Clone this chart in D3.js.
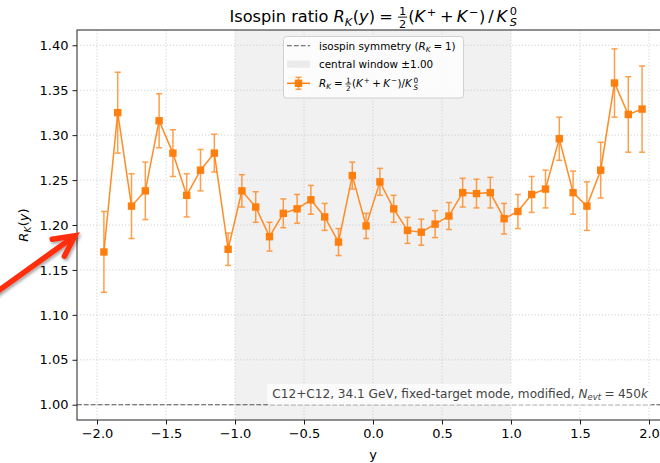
<!DOCTYPE html>
<html>
<head>
<meta charset="utf-8">
<script src="https://cdn.jsdelivr.net/npm/d3@7"></script>
<style>
  body { margin: 0; background: #fff; }
  text { font-family: 'DejaVu Sans', sans-serif; white-space: pre; }
</style>
</head>
<body>
<svg id="chart" width="660" height="463"></svg>
<script>
// rapidity bin centres and measured ratio
const yBins = [-1.95,-1.85,-1.75,-1.65,-1.55,-1.45,-1.35,-1.25,-1.15,-1.05,
               -0.95,-0.85,-0.75,-0.65,-0.55,-0.45,-0.35,-0.25,-0.15,-0.05,
                0.05, 0.15, 0.25, 0.35, 0.45, 0.55, 0.65, 0.75, 0.85, 0.95,
                1.05, 1.15, 1.25, 1.35, 1.45, 1.55, 1.65, 1.75, 1.85, 1.95]
const rk = [1.170,1.325,1.221,1.238,1.316,1.280,1.233,1.261,1.280,1.173,
            1.238,1.220,1.187,1.213,1.218,1.228,1.209,1.181,1.255,1.199,
            1.248,1.218,1.194,1.192,1.201,1.210,1.236,1.235,1.236,1.207,
            1.215,1.234,1.240,1.296,1.236,1.221,1.261,1.358,1.323,1.329]
const rkErr = [0.045,0.045,0.036,0.032,0.030,0.026,0.024,0.023,0.021,0.018,
               0.018,0.017,0.016,0.016,0.016,0.016,0.015,0.015,0.015,0.014,
               0.015,0.015,0.0145,0.0145,0.015,0.015,0.016,0.016,0.017,0.017,
               0.019,0.020,0.021,0.024,0.024,0.027,0.031,0.038,0.042,0.048]
const xTicks = [-2.0,-1.5,-1.0,-0.5,0.0,0.5,1.0,1.5,2.0]
const yTicks = [1.00,1.05,1.10,1.15,1.20,1.25,1.30,1.35,1.40]
const centralWindow = [-1.0, 1.0]
const symmetryLevel = 1.0
// call-out arrow, in data coordinates
const arrowTail = [-2.75, 1.123]
const arrowTip = [-2.16, 1.188]

const orange = '#ff7f0e'
const svg = d3.select('#chart')

const x = d3.scaleLinear().domain([-2.145, 2.145]).range([77, 669])
const y = d3.scaleLinear().domain([0.983, 1.417]).range([420, 30])

// small mathtext-like renderer: pieces placed one after the other
function mathText(parent, parts, fs) {
  const g = parent.append('g')
  let cx = 0
  const put = (txt, px, py, size, italic) => {
    const t = g.append('text').attr('x', px).attr('y', py)
      .style('font-size', size + 'px')
      .style('font-style', italic ? 'italic' : 'normal')
      .text(txt)
    return t.node().getComputedTextLength()
  }
  parts.forEach(([k, a, b]) => {
    if (k === 'r') cx += put(a, cx, 0, fs, false)
    else if (k === 'i') cx += put(a, cx, 0, fs, true)
    else if (k === 'sub') cx += put(a, cx, fs * 0.22, fs * 0.7, true) + fs * 0.03
    else if (k === 'sup') { cx += fs * 0.1; cx += put(a, cx, -fs * 0.4, fs * 0.7, false) + fs * 0.03 }
    else if (k === 'supsub') {
      // superscript and subscript stacked in one text element
      const s = fs * 0.7
      cx += fs * 0.1
      const t = g.append('text').attr('x', cx).attr('y', 0).style('font-size', s + 'px')
      t.append('tspan').attr('dy', -fs * 0.42).attr('dx', fs * 0.05).text(a)
      const w1 = t.node().getComputedTextLength()
      t.append('tspan').attr('dx', -w1).attr('dy', fs * 0.66).style('font-style', 'italic').text(b)
      cx += w1 + fs * 0.03
    }
    else if (k === 'frac') {
      const s = fs * 0.7
      const tmp = g.append('text').style('font-size', s + 'px').text(a)
      const wn = tmp.node().getComputedTextLength(); tmp.remove()
      const tmp2 = g.append('text').style('font-size', s + 'px').text(b)
      const wd = tmp2.node().getComputedTextLength(); tmp2.remove()
      const w = Math.max(wn, wd) + fs * 0.12
      cx += fs * 0.06
      put(a, cx + (w - wn) / 2, -fs * 0.42, s, false)
      put(b, cx + (w - wd) / 2, fs * 0.36, s, false)
      g.append('line').attr('x1', cx).attr('x2', cx + w)
        .attr('y1', -fs * 0.3).attr('y2', -fs * 0.3)
        .attr('stroke', 'currentColor').attr('stroke-width', Math.max(0.7, fs * 0.055))
      cx += w + fs * 0.06
    }
    else if (k === 'sp') cx += fs * a
  })
  return { g, width: cx }
}

// central window shading
svg.append('rect')
  .attr('x', x(centralWindow[0])).attr('width', x(centralWindow[1]) - x(centralWindow[0]))
  .attr('y', y.range()[1]).attr('height', y.range()[0] - y.range()[1])
  .attr('fill', '#f1f1f1')

// grid
const grid = svg.append('g').attr('stroke', '#c8c8c8').attr('stroke-width', 0.8).attr('stroke-dasharray', '1.2,2')
grid.selectAll('.gx').data(xTicks).enter().append('line')
  .attr('x1', d => x(d)).attr('x2', d => x(d)).attr('y1', 30).attr('y2', 420)
grid.selectAll('.gy').data(yTicks).enter().append('line')
  .attr('x1', 77).attr('x2', 669).attr('y1', d => y(d)).attr('y2', d => y(d))

// isospin symmetry line
svg.append('line')
  .attr('x1', 77).attr('x2', 669).attr('y1', y(symmetryLevel)).attr('y2', y(symmetryLevel))
  .attr('stroke', '#555').attr('stroke-width', 1.1).attr('stroke-dasharray', '4.8,2.1')

// error bars
const eb = svg.append('g').attr('stroke', orange).attr('stroke-width', 1.5).attr('opacity', 0.75)
yBins.forEach((b, i) => {
  const px = x(b)
  eb.append('line').attr('x1', px).attr('x2', px).attr('y1', y(rk[i] - rkErr[i])).attr('y2', y(rk[i] + rkErr[i]))
  ;[rk[i] - rkErr[i], rk[i] + rkErr[i]].forEach(v => {
    eb.append('line').attr('x1', px - 3).attr('x2', px + 3).attr('y1', y(v)).attr('y2', y(v))
  })
})

// connecting line
svg.append('path')
  .datum(yBins.map((b, i) => [b, rk[i]]))
  .attr('d', d3.line().x(d => x(d[0])).y(d => y(d[1])))
  .attr('fill', 'none').attr('stroke', orange).attr('stroke-width', 1.5).attr('opacity', 0.9)

// markers
svg.selectAll('.mk').data(yBins).enter().append('rect')
  .attr('x', d => x(d) - 3.7).attr('y', (d, i) => y(rk[i]) - 3.7)
  .attr('width', 7.4).attr('height', 7.4)
  .attr('fill', orange)

// axes
const xAxis = svg.append('g').attr('transform', 'translate(0,420)')
  .call(d3.axisBottom(x).tickValues(xTicks).tickFormat(d3.format('.1f')).tickSize(4.5).tickPadding(4).tickSizeOuter(0))
const yAxis = svg.append('g').attr('transform', 'translate(77,0)')
  .call(d3.axisLeft(y).tickValues(yTicks).tickFormat(d3.format('.2f')).tickSize(4.5).tickPadding(4).tickSizeOuter(0))
;[xAxis, yAxis].forEach(a => {
  a.select('.domain').remove()
  a.selectAll('text').style('font-size', '13px').style('font-family', "'DejaVu Sans', sans-serif").attr('fill', '#000')
  a.selectAll('line').attr('stroke', '#000').attr('stroke-width', 0.9)
})

// frame
svg.append('rect').attr('x', 77).attr('y', 30).attr('width', 592).attr('height', 390)
  .attr('fill', 'none').attr('stroke', '#222').attr('stroke-width', 1)

// axis labels
svg.append('text').attr('x', 373).attr('y', 459).attr('text-anchor', 'middle')
  .style('font-size', '13px').text('y')
const yl = mathText(svg, [['i', 'R'], ['sub', 'K'], ['r', '('], ['i', 'y'], ['r', ')']], 13)
yl.g.attr('transform', `translate(28,${225 + yl.width / 2}) rotate(-90)`)

// title
const title = mathText(svg, [
  ['r', 'Isospin ratio '], ['i', 'R'], ['sub', 'K'], ['r', '('], ['i', 'y'], ['r', ')'],
  ['sp', 0.26], ['r', '='], ['sp', 0.26], ['frac', '1', '2'], ['r', '('], ['i', 'K'], ['sup', '+'],
  ['sp', 0.2], ['r', '+'], ['sp', 0.2], ['i', 'K'], ['sup', '−'], ['r', ')'], ['sp', 0.18],
  ['r', '/'], ['sp', 0.18], ['i', 'K'], ['supsub', '0', 'S']
], 16.2)
title.g.attr('transform', `translate(${373 - title.width / 2},22)`)

// legend
const lg = svg.append('g')
lg.append('rect').attr('x', 283.5).attr('y', 36.5).attr('width', 180).attr('height', 61.5).attr('rx', 3)
  .attr('fill', '#fff').attr('fill-opacity', 0.8).attr('stroke', '#d0d0d0').attr('stroke-width', 1)
const rows = [45.7, 64.2, 83.3]
lg.append('line').attr('x1', 287).attr('x2', 310).attr('y1', rows[0]).attr('y2', rows[0])
  .attr('stroke', '#555').attr('stroke-width', 1.1).attr('stroke-dasharray', '4.8,2.1')
lg.append('rect').attr('x', 287).attr('y', rows[1] - 3.6).attr('width', 23).attr('height', 7.2)
  .attr('fill', '#ebebeb')
lg.append('line').attr('x1', 287).attr('x2', 310).attr('y1', rows[2]).attr('y2', rows[2])
  .attr('stroke', orange).attr('stroke-width', 1.5)
lg.append('line').attr('x1', 298.5).attr('x2', 298.5).attr('y1', rows[2] - 6).attr('y2', rows[2] + 6)
  .attr('stroke', orange).attr('stroke-width', 1.5).attr('opacity', 0.75)
;[rows[2] - 6, rows[2] + 6].forEach(v => lg.append('line').attr('x1', 295.5).attr('x2', 301.5)
  .attr('y1', v).attr('y2', v).attr('stroke', orange).attr('stroke-width', 1.5).attr('opacity', 0.75))
lg.append('rect').attr('x', 294.8).attr('y', rows[2] - 3.7).attr('width', 7.4).attr('height', 7.4).attr('fill', orange)

const lfs = 10.4
const e1 = mathText(lg, [['r', 'isospin symmetry ('], ['i', 'R'], ['sub', 'K'], ['sp', 0.26], ['r', '='], ['sp', 0.26], ['r', '1)']], lfs)
e1.g.attr('transform', `translate(319,${rows[0] + 3.8})`)
const e2 = mathText(lg, [['r', 'central window ±1.00']], lfs)
e2.g.attr('transform', `translate(319,${rows[1] + 3.8})`)
const e3 = mathText(lg, [['i', 'R'], ['sub', 'K'], ['sp', 0.26], ['r', '='], ['sp', 0.2], ['frac', '1', '2'],
  ['r', '('], ['i', 'K'], ['sup', '+'], ['sp', 0.2], ['r', '+'], ['sp', 0.2], ['i', 'K'], ['sup', '−'], ['r', ')/'],
  ['i', 'K'], ['supsub', '0', 'S']], lfs)
e3.g.attr('transform', `translate(319,${rows[2] + 3.8})`)

// run annotation
const ann = svg.append('g')
const at = mathText(ann, [['r', 'C12+C12, 34.1 GeV, fixed-target mode, modified, '], ['i', 'N'], ['sub', 'evt'],
  ['sp', 0.26], ['r', '='], ['sp', 0.26], ['r', '450'], ['i', 'k']], 12.1)
at.g.attr('fill', '#444')
const annRight = 648
ann.insert('rect', ':first-child')
  .attr('x', annRight - at.width - 5).attr('y', 384).attr('width', at.width + 9).attr('height', 21).attr('rx', 2)
  .attr('fill', '#fff').attr('fill-opacity', 0.7)
at.g.attr('transform', `translate(${annRight - at.width},397.5)`)

// red call-out arrow
const defs = svg.append('defs')
defs.append('filter').attr('id', 'shadow').attr('x', '-20%').attr('y', '-20%').attr('width', '140%').attr('height', '140%')
  .append('feDropShadow').attr('dx', 1.5).attr('dy', 2).attr('stdDeviation', 1.5)
  .attr('flood-color', '#000').attr('flood-opacity', 0.35)
const tx = x(arrowTip[0]), ty = y(arrowTip[1])
const sx = x(arrowTail[0]), sy = y(arrowTail[1])
const ang = Math.atan2(sy - ty, sx - tx)
const armL = 23, spread = 27 * Math.PI / 180
const a1 = [tx + armL * Math.cos(ang + spread), ty + armL * Math.sin(ang + spread)]
const a2 = [tx + armL * Math.cos(ang - spread), ty + armL * Math.sin(ang - spread)]
const arrow = svg.append('g').attr('filter', 'url(#shadow)')
  .attr('fill', 'none').attr('stroke', '#ff2d0d').attr('stroke-width', 5.5)
arrow.append('line').attr('x1', sx).attr('y1', sy).attr('x2', tx - 2 * Math.cos(ang + Math.PI)).attr('y2', ty - 2 * Math.sin(ang + Math.PI))
  .attr('stroke-linecap', 'round')
arrow.append('path').attr('d', `M${a1[0]},${a1[1]}L${tx},${ty}L${a2[0]},${a2[1]}`)
  .attr('stroke-linejoin', 'miter').attr('stroke-linecap', 'round')
</script>
</body>
</html>
